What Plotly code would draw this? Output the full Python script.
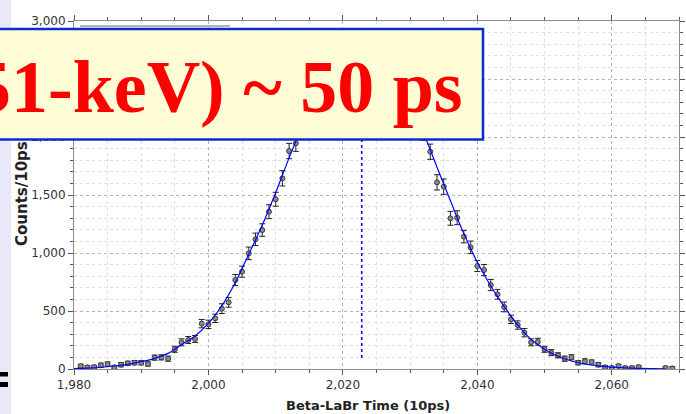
import plotly.graph_objects as go

# ---------------- data ----------------
time_bins = [1981, 1982, 1983, 1984, 1985, 1986, 1987, 1988, 1989, 1990,
             1991, 1992, 1993, 1994, 1995, 1996, 1997, 1998, 1999, 2000,
             2001, 2002, 2003, 2004, 2005, 2006, 2007, 2008, 2009, 2010,
             2011, 2012, 2013,
             2014, 2015, 2016, 2017, 2018, 2019, 2020, 2021, 2022, 2023,
             2024, 2025, 2026, 2027, 2028, 2029, 2030, 2031, 2032,
             2033, 2034, 2035, 2036, 2037, 2038, 2039, 2040, 2041, 2042,
             2043, 2044, 2045, 2046, 2047, 2048, 2049, 2050, 2051, 2052,
             2053, 2054, 2055, 2056, 2057, 2058, 2059, 2060, 2061, 2062,
             2063, 2064, 2068, 2069]
counts = [26, 15, 17, 32, 43, 15, 37, 49, 54, 54,
          43, 98, 100, 89, 170, 230, 250, 259, 391, 385,
          437, 520, 575, 767, 839, 997, 1118, 1198, 1356, 1463,
          1644, 1879, 1946,
          2080, 2230, 2350, 2450, 2560, 2610, 2700, 2730, 2790, 2760,
          2750, 2710, 2690, 2600, 2510, 2400, 2290, 2170, 2040,
          1873, 1609, 1572, 1299, 1304, 1141, 1049, 888, 853, 724,
          644, 535, 428, 379, 313, 230, 235, 170, 141, 118,
          89, 101, 54, 66, 60, 37, 15, 9, 26, 9,
          9, 17, 9, 5]
count_errors = [14, 14, 14, 18, 18, 14, 18, 18, 18, 18,
                18, 22, 22, 22, 26, 30, 30, 30, 36, 36,
                36, 42, 42, 48, 48, 54, 54, 54, 60, 60,
                66, 66, 70,
                70, 70, 70, 70, 70, 70, 70, 70, 70, 70,
                70, 70, 70, 70, 70, 70, 70, 70, 70,
                66, 66, 66, 60, 60, 54, 54, 48, 48, 48,
                42, 42, 36, 36, 36, 30, 30, 26, 26, 22,
                22, 22, 18, 22, 18, 18, 14, 14, 14, 14,
                14, 14, 14, 14]

fit_x = [1980, 1982, 1984, 1986, 1988, 1990, 1992, 1994, 1996, 1998,
         2000, 2002, 2004, 2006, 2008, 2010, 2012, 2014, 2016, 2018,
         2020, 2022, 2024, 2026, 2028, 2030, 2032, 2034, 2036, 2038,
         2040, 2042, 2044, 2046, 2048, 2050, 2052, 2054, 2056, 2058,
         2060, 2062, 2064, 2066, 2068]
fit_y = [4, 8, 15, 26, 40, 63, 92, 135, 210, 285,
         394, 545, 745, 990, 1240, 1520, 1820, 2100, 2360, 2560,
         2700, 2775, 2765, 2680, 2520, 2300, 2035, 1740, 1450, 1165,
         920, 715, 537, 380, 255, 170, 110, 69, 43, 27,
         16, 10, 6, 3.5, 2]

centroid_x = [2022.8, 2022.8]
centroid_y = [95, 2780]

x_range = [1980, 2070]
y_range = [0, 3000]
banner_text = "51-keV) ~ 50 ps"
x_title = "Beta-LaBr Time (10ps)"
y_title = "Counts/10ps"

# ---------------- layout helpers (pixel -> paper) ----------------
W, H = 686, 414
ML, MR, MT, MB = 74, 7, 21, 45
PW, PH = W - ML - MR, H - MT - MB


def px(xp):
    return (xp - ML) / PW


def py(yp):
    return (H - MB - yp) / PH


fig = go.Figure()

fig.add_trace(go.Scatter(
    x=time_bins, y=counts, mode="markers",
    marker=dict(size=5, color="#8a8a8a", line=dict(color="#3a3a3a", width=1)),
    error_y=dict(type="data", array=count_errors, visible=True,
                 color="#222222", thickness=1, width=3),
    showlegend=False, hoverinfo="x+y"))

fig.add_trace(go.Scatter(
    x=fit_x, y=fit_y, mode="lines",
    line=dict(color="#0000ff", width=1.2, shape="spline", smoothing=1),
    showlegend=False))

fig.add_trace(go.Scatter(
    x=centroid_x, y=centroid_y, mode="lines",
    line=dict(color="#0000ff", width=1.5, dash="dot"),
    showlegend=False))

axis_common = dict(
    showline=True, linecolor="#8c8c8c", linewidth=1, mirror="allticks",
    ticks="outside", ticklen=5, tickcolor="#555555", tickwidth=1,
    showgrid=True, gridcolor="#b4b4b4", griddash="dot", gridwidth=1,
    zeroline=False, tickformat=",", automargin=False,
    tickfont=dict(family="DejaVu Sans", size=12, color="#333333"),
)

fig.update_layout(
    width=W, height=H,
    margin=dict(l=ML, r=MR, t=MT, b=MB, autoexpand=False),
    paper_bgcolor="white", plot_bgcolor="white",
    xaxis=dict(range=x_range, tick0=1980, dtick=20,
               minor=dict(dtick=5, ticks="outside", ticklen=3, tickcolor="#555555",
                          showgrid=True, gridcolor="#e0e0e0", griddash="dot"),
               **axis_common),
    yaxis=dict(range=y_range, tick0=0, dtick=500,
               minor=dict(dtick=100, ticks="outside", ticklen=3, tickcolor="#555555",
                          showgrid=True, gridcolor="#e0e0e0", griddash="dot"),
               **axis_common),
)

shapes = [
    # lavender slide stripe at left
    dict(type="rect", xref="paper", yref="paper", x0=px(0), x1=px(11), y0=py(H), y1=py(0),
         fillcolor="#e8e8f8", line=dict(width=0), layer="above"),
    # "=" bars at bottom-left
    dict(type="rect", xref="paper", yref="paper", x0=px(0), x1=px(8), y0=py(376.5), y1=py(372),
         fillcolor="black", line=dict(width=0), layer="above"),
    dict(type="rect", xref="paper", yref="paper", x0=px(0), x1=px(8), y0=py(387), y1=py(382),
         fillcolor="black", line=dict(width=0), layer="above"),
    # hidden box edge peeking above the banner
    dict(type="line", xref="paper", yref="paper", x0=px(80), x1=px(230), y0=py(26), y1=py(26),
         line=dict(color="#999999", width=1.5), layer="above"),
    # banner box
    dict(type="rect", xref="paper", yref="paper", x0=px(-5), x1=px(483), y0=py(139.5), y1=py(29),
         fillcolor="#fffdd6", line=dict(color="#0a2ad6", width=2.5), layer="above"),
]
fig.update_layout(shapes=shapes)

# axis titles
fig.add_annotation(
    xref="paper", yref="paper", x=px(367.5), y=py(405), xanchor="center", yanchor="middle",
    text=x_title, showarrow=False,
    font=dict(family="DejaVu Sans", size=13, color="#222222", weight="bold"))
fig.add_annotation(
    xref="paper", yref="paper", x=px(22), y=py(194), xanchor="center", yanchor="middle",
    text=y_title, showarrow=False, textangle=-90,
    font=dict(family="DejaVu Sans", size=15, color="#222222", weight="bold"))

fig.add_annotation(
    xref="paper", yref="paper", x=px(465), y=py(87), xanchor="right", yanchor="middle",
    text=banner_text, showarrow=False,
    font=dict(family="Liberation Serif", size=74, color="#ff0000", weight="bold"))

fig.write_html("out.html", config={"displayModeBar": False},
               post_script="document.body.style.margin='0';")
